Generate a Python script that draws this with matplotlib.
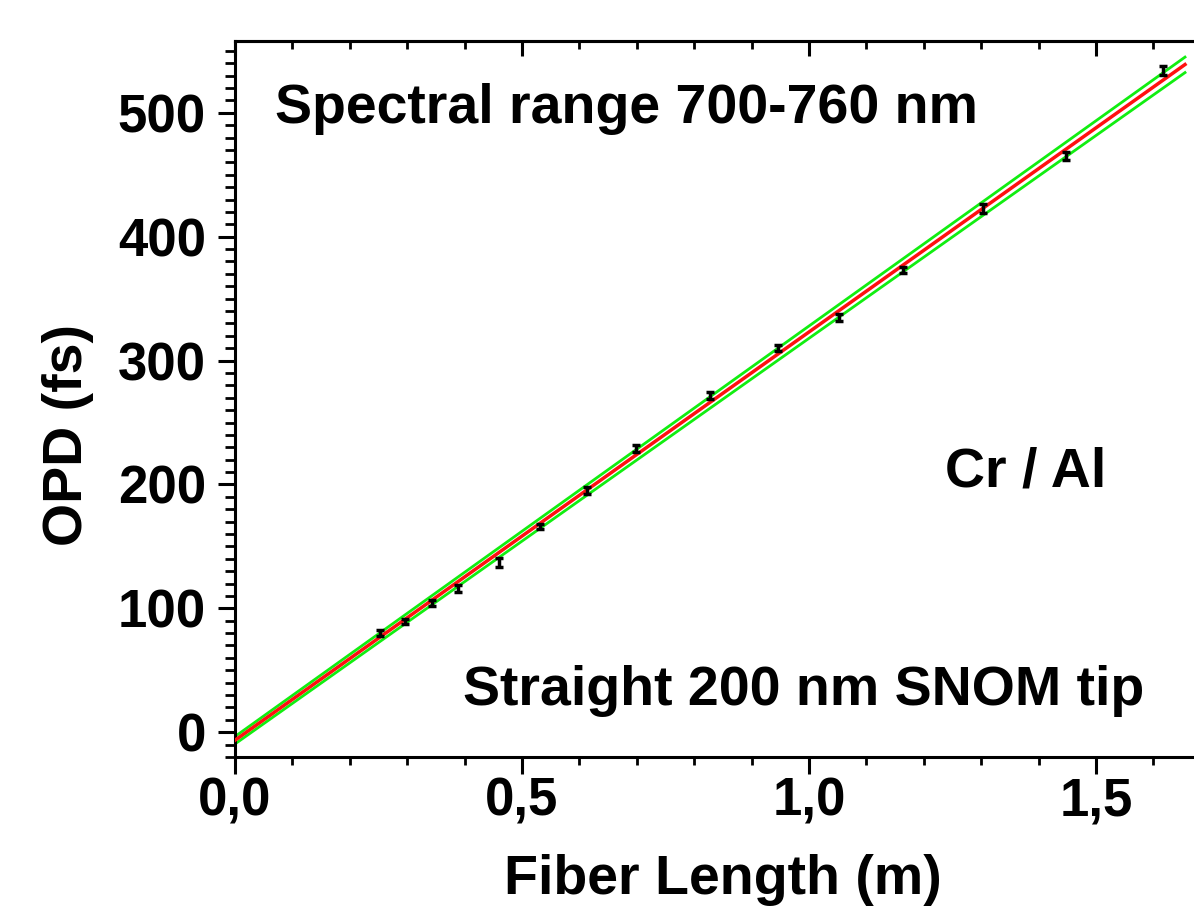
import matplotlib
matplotlib.use("Agg")
import matplotlib.pyplot as plt
from matplotlib.ticker import MultipleLocator, FuncFormatter

plt.rcParams['font.family'] = ['Liberation Sans', 'DejaVu Sans']
plt.rcParams['font.weight'] = 'bold'

# data
fiber_length = [0.253, 0.296, 0.343, 0.389, 0.460, 0.531, 0.613, 0.699,
                0.828, 0.946, 1.052, 1.164, 1.303, 1.448, 1.617]
opd = [80, 89.5, 104, 116, 137, 166, 195, 229, 272, 310, 335, 373, 423, 465, 534]
opd_err = [2.5, 2.0, 2.5, 3.0, 3.5, 2.0, 3.0, 2.5, 3.0, 2.5, 3.0, 2.5, 3.5, 3.0, 3.5]

# linear fit and confidence band
fit_x = [0.0, 1.655]
fit_y = [-6.5, 539.0]
band_upper = [-3.5, 545.0]
band_lower = [-9.5, 532.5]

W, H = 1194, 907
fig = plt.figure(figsize=(W / 100, H / 100), dpi=100)
ax = fig.add_axes([0.1968, 0.1654, 0.8173, 0.7894])

ax.plot(fit_x, band_upper, color='#11ee11', lw=2.0, zorder=2)
ax.plot(fit_x, band_lower, color='#11ee11', lw=2.0, zorder=2)
ax.plot(fit_x, fit_y, color='#ff1010', lw=2.5, zorder=3)
ax.errorbar(fiber_length, opd, yerr=opd_err, fmt='none', ecolor='black',
            elinewidth=2.5, capsize=3, capthick=2.5, zorder=4)

ax.set_xlim(0, 1.7)
ax.set_ylim(-20, 558)

ax.xaxis.set_major_locator(MultipleLocator(0.5))
ax.xaxis.set_minor_locator(MultipleLocator(0.1))
ax.yaxis.set_major_locator(MultipleLocator(100))
ax.yaxis.set_minor_locator(MultipleLocator(10))
ax.xaxis.set_major_formatter(FuncFormatter(lambda v, p: f"{v:.1f}".replace('.', ',')))
ax.yaxis.set_major_formatter(FuncFormatter(lambda v, p: f"{int(round(v))}"))

for s in ['left', 'bottom', 'top']:
    ax.spines[s].set_linewidth(2.2)
ax.spines['right'].set_visible(False)

ax.tick_params(axis='x', which='major', bottom=True, top=False, direction='out',
               length=12, width=2.2, labelsize=38, pad=2)
ax.tick_params(axis='x', which='minor', bottom=True, top=False, direction='out',
               length=6, width=2.0)
ax.tick_params(axis='y', which='major', left=True, right=False, direction='out',
               length=12, width=2.2, labelsize=38, pad=9)
ax.tick_params(axis='y', which='minor', left=True, right=False, direction='out',
               length=7, width=2.0)
# top mirrored ticks pointing inward
axt = ax.secondary_xaxis('top')
axt.xaxis.set_major_locator(MultipleLocator(0.5))
axt.xaxis.set_minor_locator(MultipleLocator(0.1))
axt.tick_params(axis='x', which='major', direction='in', length=11, width=2.2, labeltop=False)
axt.tick_params(axis='x', which='minor', direction='in', length=6, width=2.0)
axt.spines['top'].set_linewidth(2.2)

for lab in ax.get_xticklabels() + ax.get_yticklabels():
    lab.set_fontweight('bold')

ax.set_xlabel('Fiber Length (m)', fontsize=40, fontweight='bold')
ax.set_ylabel('OPD (fs)', fontsize=40, fontweight='bold')
ax.xaxis.set_label_coords(0.5, -0.1355)
ax.yaxis.set_label_coords(-0.1445, 0.4497)

fig.text(275 / W, 1 - 123 / H, 'Spectral range 700-760 nm', fontsize=40,
         fontweight='bold', ha='left', va='baseline')
fig.text(945 / W, 1 - 487 / H, 'Cr / Al', fontsize=40, fontweight='bold',
         ha='left', va='baseline')
fig.text(463 / W, 1 - 705 / H, 'Straight 200 nm SNOM tip', fontsize=40,
         fontweight='bold', ha='left', va='baseline')

fig.savefig('out.png', dpi=100)
